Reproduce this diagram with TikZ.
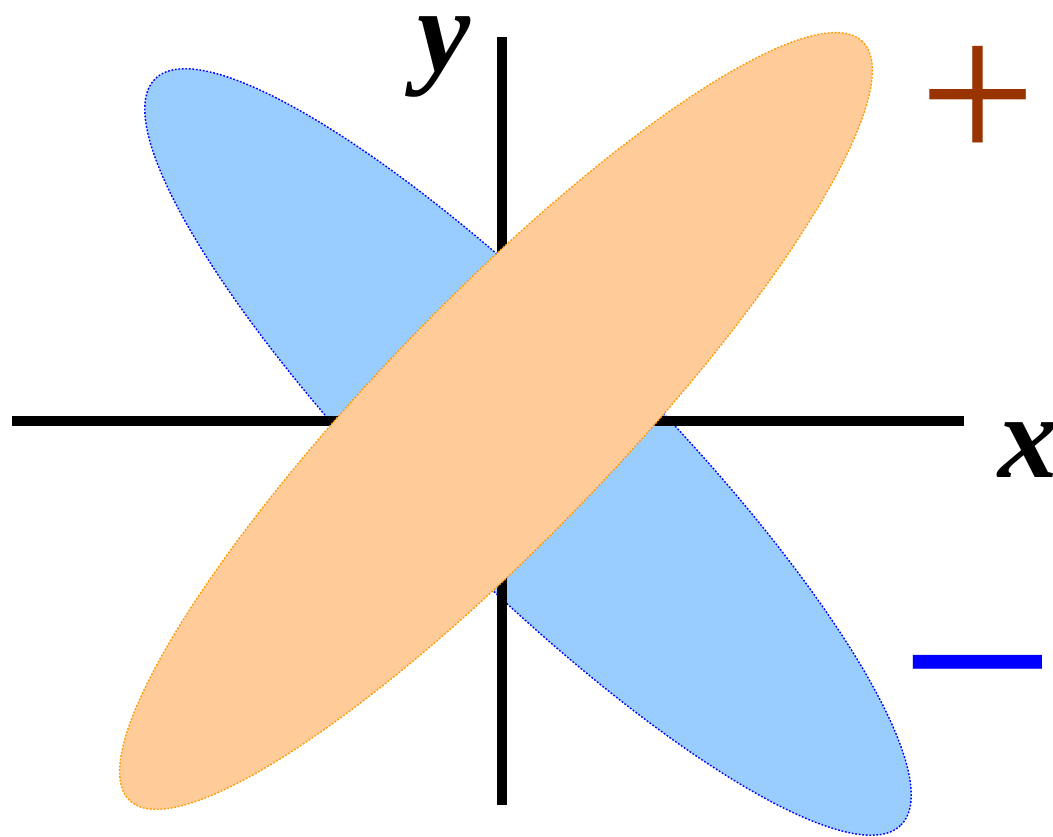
\documentclass[tikz,border=0pt]{standalone}
\usepackage{fontspec}
\setmainfont{Liberation Serif}
\usepackage{xcolor}
\usepackage{tikz}
\usetikzlibrary{shapes.geometric, positioning}

\definecolor{azulclaro}{HTML}{99CCFF}
\definecolor{laranjaclaro}{HTML}{FFCC99}
\definecolor{laranjaborda}{HTML}{FF9900}
\definecolor{marrom}{HTML}{993300}

\begin{document}
\begin{tikzpicture}[lobo/.style={ellipse, inner sep=0pt, outer sep=0pt, line width=0.4pt, dash pattern=on 0.5pt off 0.5pt, minimum width=10.55cm},
                    eixo/.style={line width=2.9pt},
                    rotulo/.style={inner sep=0pt, font=\fontsize{34}{38}\selectfont\bfseries\itshape},
                    sinal/.style={inner sep=0pt, anchor=base}]
            \useasboundingbox (0,0) rectangle (10.53,8.37);
            \node[lobo, draw=blue, fill=azulclaro, minimum height=2.48cm, rotate=-45] (neg) at (5.28,3.85) {};
            \coordinate (xa) at (0.12,4.16);
            \coordinate (xb) at (9.64,4.16);
            \coordinate (ya) at (5.02,0.32);
            \coordinate (yb) at (5.02,8.00);
            \draw[eixo] (xa) -- (xb);
            \draw[eixo] (ya) -- (yb);
            \node[lobo, draw=laranjaborda, fill=laranjaclaro, minimum height=2.38cm, rotate=46] (pos) at (4.96,4.16) {};
            \node[rotulo, anchor=base west] (lx) at (9.98,3.59) {x};
            \node[rotulo, anchor=base west] (ly) at (4.17,7.65) {y};
            \node[sinal, text=marrom, font=\fontsize{59}{66}\selectfont] (mais) at (9.78,6.73) {+};
            \node[sinal, text=blue, font=\fontsize{79}{86}\selectfont] (menos) at (9.775,0.82) {−};
        \end{tikzpicture}
\end{document}
